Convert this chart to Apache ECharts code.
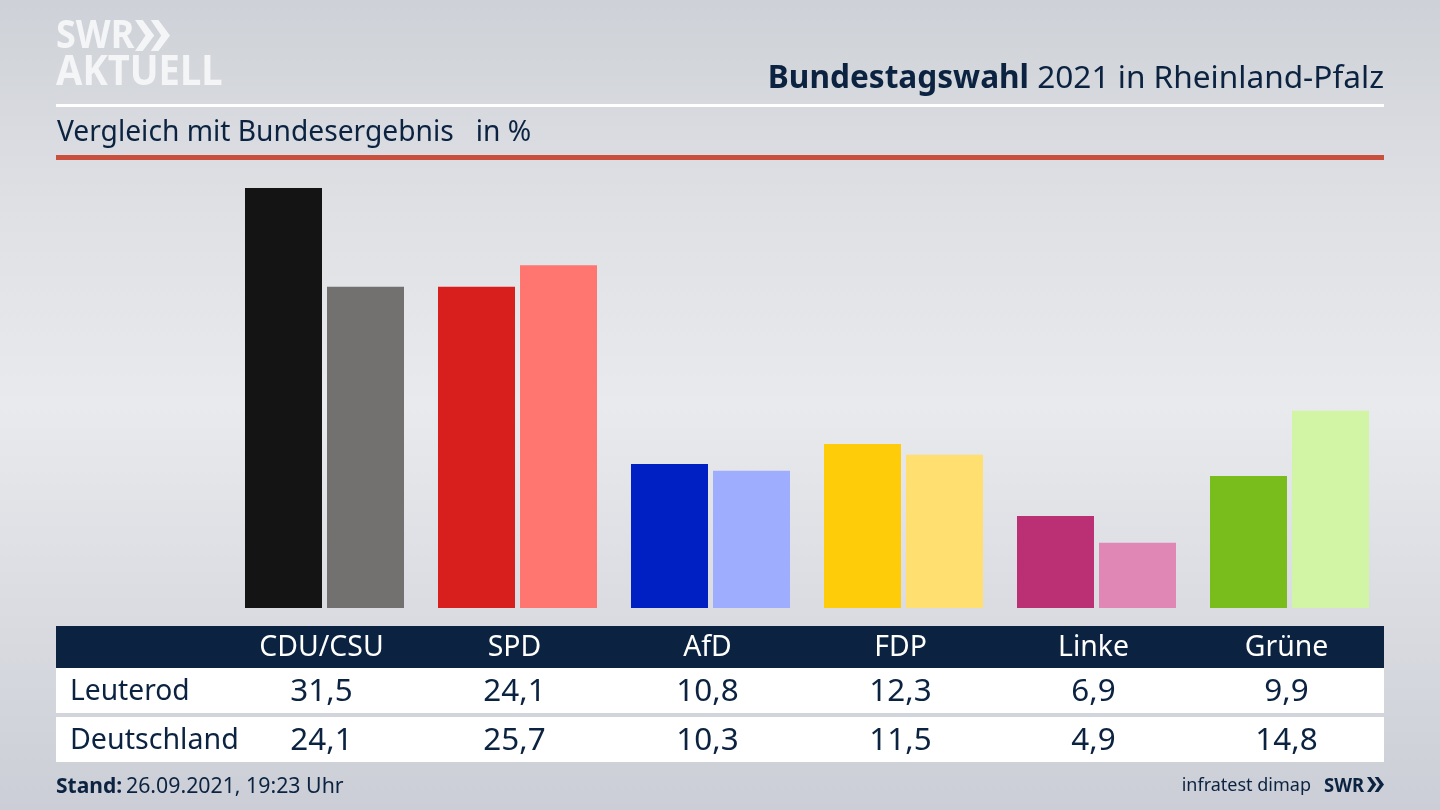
<!DOCTYPE html>
<html>
<head>
<meta charset="utf-8">
<title>Bundestagswahl 2021 in Rheinland-Pfalz</title>
<script src="https://cdn.jsdelivr.net/npm/echarts@6/dist/echarts.min.js"></script>
<style>
  html, body { margin: 0; padding: 0; background: #d5d8de; }
  #main { width: 1440px; height: 810px; }
</style>
</head>
<body>
<div id="main"></div>
<script>
const parties = ['CDU/CSU', 'SPD', 'AfD', 'FDP', 'Linke', 'Grüne'];
const leuterod = [31.5, 24.1, 10.8, 12.3, 6.9, 9.9];
const deutschland = [24.1, 25.7, 10.3, 11.5, 4.9, 14.8];
const leuterodColors = ['#141414', '#d81f1e', '#0020c4', '#ffcc0a', '#bb2f75', '#79bd1c'];
const deutschlandColors = ['#72716f', '#ff7570', '#9fadff', '#ffdf70', '#e087b6', '#d2f5a5'];

const navy = '#0b2340';
const font = '"Noto Sans", sans-serif';
const comma = v => v.toFixed(1).replace('.', ',');

function label(text, x, y, size, fill, align, weight, scaleX) {
  return {
    type: 'text',
    x: x,
    y: y,
    scaleX: scaleX || 1,
    style: {
      text: text,
      fill: fill,
      font: (weight || 'normal') + ' ' + size + 'px ' + font,
      textAlign: align || 'left',
      textVerticalAlign: 'middle'
    }
  };
}
function box(x, y, w, h, fill) {
  return { type: 'rect', shape: { x: x, y: y, width: w, height: h }, style: { fill: fill } };
}
function chevrons(x, y, w, h, fill) {
  // the double arrow of the SWR logo
  const one = dx => ({
    type: 'polygon',
    shape: { points: [[x + dx, y], [x + dx + w * 0.22, y], [x + dx + w * 0.55, y + h / 2], [x + dx + w * 0.22, y + h], [x + dx, y + h], [x + dx + w * 0.3, y + h / 2]] },
    style: { fill: fill }
  });
  return [one(0), one(w * 0.45)];
}

const colX = parties.map((_, i) => 321.5 + 193 * i);
const graphics = [
  // header
  label('SWR', 56, 37, 40, '#f4f5f7', 'left', 'bold', 0.9),
  ...chevrons(135, 20, 35, 31, '#f4f5f7'),
  label('AKTUELL', 56, 73, 41, '#f4f5f7', 'left', 'bold', 0.93),
  box(56, 104, 1328, 3, '#ffffff'),
  {
    type: 'text', x: 1384, y: 79,
    style: {
      text: '{b|Bundestagswahl} 2021 in Rheinland-Pfalz',
      rich: {
        b: { font: 'bold 31.6px ' + font, fill: navy }
      },
      font: '31.6px ' + font,
      fill: navy,
      textAlign: 'right',
      textVerticalAlign: 'middle'
    }
  },
  label('Vergleich mit Bundesergebnis   in %', 57, 133, 28.2, navy),
  box(56, 155, 1328, 5, '#c9503c'),
  // table
  box(56, 626, 1328, 42, navy),
  box(56, 668, 1328, 45, '#ffffff'),
  box(56, 717, 1328, 45, '#ffffff'),
  label('Leuterod', 70, 692, 28.2, navy),
  label('Deutschland', 70, 741, 28.6, navy),
  ...parties.map((p, i) => label(p, colX[i], 648, 28.4, '#ffffff', 'center')),
  ...leuterod.map((v, i) => label(comma(v), colX[i], 692.5, 31.4, navy, 'center')),
  ...deutschland.map((v, i) => label(comma(v), colX[i], 741.5, 31.4, navy, 'center')),
  // footer
  label('Stand:', 56, 787, 21, navy, 'left', 'bold'),
  label('26.09.2021, 19:23 Uhr', 126, 787, 21.3, navy),
  label('infratest dimap', 1311, 786, 18, navy, 'right'),
  label('SWR', 1324, 786, 20, navy, 'left', 'bold', 0.92),
  ...chevrons(1367, 777, 17, 15, navy)
];

const chart = echarts.init(document.getElementById('main'));
chart.setOption({
  animation: false,
  backgroundColor: {
    type: 'linear', x: 0, y: 0, x2: 0, y2: 1,
    colorStops: [
      { offset: 0, color: '#ced1d7' },
      { offset: 0.25, color: '#dee0e4' },
      { offset: 0.5, color: '#e9eaed' },
      { offset: 1, color: '#cbced6' }
    ]
  },
  grid: { left: 228, right: 54, top: 188, bottom: 202 },
  xAxis: { type: 'category', data: parties, show: false },
  yAxis: { type: 'value', min: 0, max: 31.5, show: false },
  series: [
    {
      name: 'Leuterod',
      type: 'bar',
      data: leuterod,
      barWidth: 77,
      barGap: '6.5%',
      itemStyle: { color: p => leuterodColors[p.dataIndex] }
    },
    {
      name: 'Deutschland',
      type: 'bar',
      data: deutschland,
      barWidth: 77,
      itemStyle: { color: p => deutschlandColors[p.dataIndex] }
    }
  ],
  graphic: { elements: graphics }
});
</script>
</body>
</html>
